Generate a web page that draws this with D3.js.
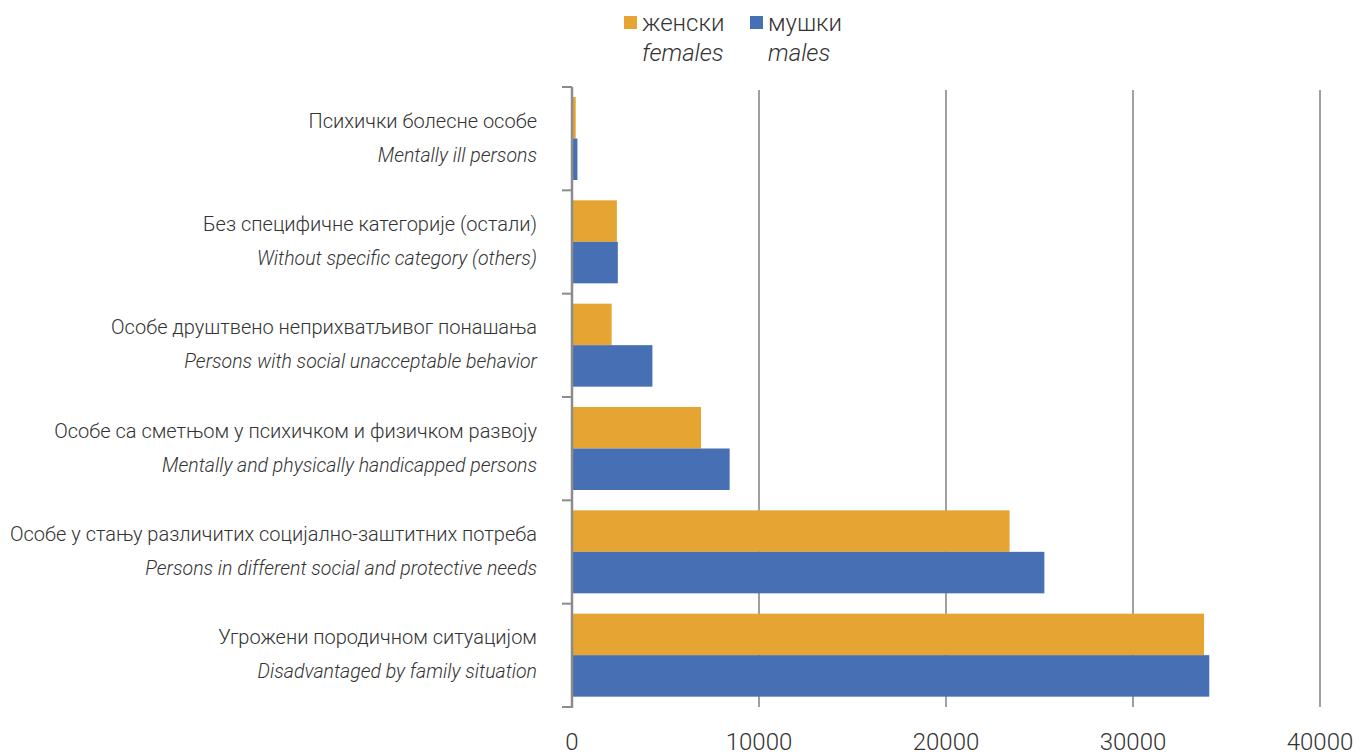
<!DOCTYPE html>
<html>
<head>
<meta charset="utf-8">
<script src="https://cdn.jsdelivr.net/npm/d3@7"></script>
<style>
  body { margin: 0; background: #fff; }
  svg { font-family: Roboto, "Noto Sans", sans-serif; }
</style>
</head>
<body>
<div id="container"></div>
<script>
// categories, top to bottom
var catsSr = ["Психички болесне особе", "Без специфичне категорије (остали)",
  "Особе друштвено неприхватљивог понашања", "Особе са сметњом у психичком и физичком развоју",
  "Особе у стању различитих социјално-заштитних потреба", "Угрожени породичном ситуацијом"]
var catsEn = ["Mentally ill persons", "Without specific category (others)",
  "Persons with social unacceptable behavior", "Mentally and physically handicapped persons",
  "Persons in different social and protective needs", "Disadvantaged by family situation"]
var females = [200, 2400, 2120, 6900, 23400, 33800]
var males = [290, 2450, 4300, 8430, 25260, 34080]
var xTicks = [0, 10000, 20000, 30000, 40000]
var seriesNames = [["женски", "females"], ["мушки", "males"]]
var colors = ["#E6A532", "#466FB4"]

var width = 1371, height = 752
var mLeft = 572, mRight = 1320, mTop = 87, mBottom = 707

var svg = d3.select("#container").append("svg")
  .attr("width", width).attr("height", height)

var x = d3.scaleLinear().domain([0, 40000]).range([mLeft, mRight])
var yb = d3.scaleBand().domain(d3.range(catsSr.length)).range([mTop, mBottom])

// gridlines
svg.append("g").selectAll("line")
  .data(xTicks.slice(1))
  .enter().append("line")
    .attr("x1", d => x(d)).attr("x2", d => x(d))
    .attr("y1", mTop + 3).attr("y2", mBottom)
    .attr("stroke", "#a0a0a0").attr("stroke-width", 2)

// bars
var rows = d3.range(catsSr.length).map(i => [females[i], males[i]])
var grp = svg.append("g").selectAll("g")
  .data(rows).enter().append("g")
    .attr("transform", (d, i) => "translate(0," + (yb(i) + 10) + ")")
grp.selectAll("rect")
  .data(d => d).enter().append("rect")
    .attr("x", x(0))
    .attr("y", (d, j) => j * 41.5)
    .attr("width", d => x(d) - x(0))
    .attr("height", 41.5)
    .attr("fill", (d, j) => colors[j])

// y axis line and ticks
svg.append("line")
  .attr("x1", mLeft).attr("x2", mLeft).attr("y1", mTop).attr("y2", mBottom + 1)
  .attr("stroke", "#8c8c8c").attr("stroke-width", 2.5)
svg.append("g").selectAll("line")
  .data(d3.range(catsSr.length + 1))
  .enter().append("line")
    .attr("x1", mLeft - 10).attr("x2", mLeft)
    .attr("y1", i => mTop + i * yb.step()).attr("y2", i => mTop + i * yb.step())
    .attr("stroke", "#8c8c8c").attr("stroke-width", 2)

// category labels
var labels = svg.append("g").selectAll("g")
  .data(d3.range(catsSr.length)).enter().append("g")
labels.append("text")
  .attr("x", 537).attr("y", i => yb(i) + yb.bandwidth() / 2 - 11)
  .attr("text-anchor", "end").attr("font-size", 20).attr("font-weight", 300)
  .attr("fill", "#333").text(i => catsSr[i])
labels.append("text")
  .attr("x", 537).attr("y", i => yb(i) + yb.bandwidth() / 2 + 23)
  .attr("text-anchor", "end").attr("font-size", 19.5).attr("font-weight", 300)
  .attr("font-style", "italic")
  .attr("fill", "#333").text(i => catsEn[i])

// x tick labels
svg.append("g").selectAll("text")
  .data(xTicks).enter().append("text")
    .attr("x", d => x(d)).attr("y", 750)
    .attr("text-anchor", "middle").attr("font-size", 24).attr("font-weight", 300)
    .attr("fill", "#333").text(d => d)

// legend
var legX = [624, 750]
var leg = svg.append("g").selectAll("g")
  .data(seriesNames).enter().append("g")
    .attr("transform", (d, i) => "translate(" + legX[i] + ",0)")
leg.append("rect").attr("x", 0).attr("y", 16).attr("width", 13).attr("height", 13)
  .attr("fill", (d, i) => colors[i])
leg.append("text").attr("x", 18).attr("y", 31).attr("font-size", 24).attr("font-weight", 300)
  .attr("fill", "#333").text(d => d[0])
leg.append("text").attr("x", 18).attr("y", 61).attr("font-size", 24).attr("font-weight", 300)
  .attr("font-style", "italic").attr("fill", "#333").text(d => d[1])
</script>
</body>
</html>
